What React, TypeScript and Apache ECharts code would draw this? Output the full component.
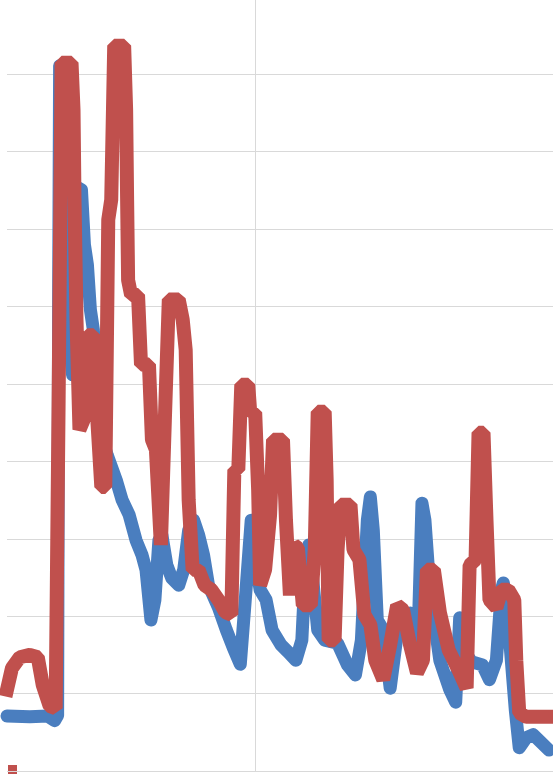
import React, { useEffect, useRef } from "react";
import * as echarts from "echarts";

// day index (x) and value (y) for each series
const redDays = [0, 2.0, 5.2, 9.2, 12.4, 14.4, 17.2, 19.6, 20.8, 22.0, 26.0, 26.8, 27.2, 28.0, 29.2, 30.8, 32.4, 34.8, 36.4, 38.0, 39.6, 40.8, 42.0, 43.2, 47.2, 48.0, 48.4, 48.8, 50.0, 52.8, 54.0, 57.2, 58.4, 60.0, 62.0, 63.6, 65.2, 69.2, 70.8, 72.0, 73.2, 74.8, 77.2, 79.6, 82.4, 85.2, 88.0, 90.4, 91.6, 93.2, 94.4, 97.2, 98.0, 100.0, 101.2, 102.0, 104.0, 106.0, 107.2, 111.2, 112.4, 114.0, 115.6, 117.2, 119.2, 122.4, 124.0, 125.2, 128.0, 128.8, 129.6, 132.0, 133.2, 134.4, 138.4, 139.6, 142.0, 144.0, 146.4, 148.4, 151.6, 154.4, 157.2, 159.6, 162.4, 165.2, 167.6, 169.2, 172.0, 174.4, 178.0, 182.0, 185.2, 186.4, 188.8, 190.0, 192.0, 193.2, 194.4, 197.2, 199.2, 202.0, 204.4, 205.2, 206.4, 209.2, 213.2, 218.4];
const redValues = [10.5, 13.3, 14.7, 15.0, 14.7, 11.1, 8.4, 8.1, 47.9, 91.5, 91.5, 85.4, 73.8, 58.3, 44.1, 45.3, 56.3, 56.3, 45.3, 36.7, 36.7, 71.2, 73.8, 93.7, 93.7, 85.4, 73.8, 63.4, 61.5, 61.5, 52.5, 52.5, 42.8, 41.5, 29.2, 45.3, 60.9, 60.9, 58.3, 54.4, 35.0, 26.0, 26.0, 24.0, 23.4, 22.1, 20.5, 20.2, 38.9, 38.9, 49.9, 49.9, 46.3, 46.3, 36.3, 24.0, 26.0, 33.1, 42.8, 42.8, 32.4, 22.7, 29.2, 28.8, 21.4, 21.4, 28.6, 46.4, 46.4, 37.6, 16.9, 16.9, 28.6, 34.4, 34.4, 28.6, 27.3, 20.2, 18.9, 14.3, 11.8, 16.3, 21.4, 20.8, 16.3, 12.7, 14.3, 26.0, 26.0, 20.5, 15.6, 13.0, 10.7, 26.6, 27.3, 43.7, 43.7, 32.4, 22.1, 21.1, 23.4, 23.4, 22.1, 14.3, 7.5, 7.0, 7.0, 7.0];

const blueDays = [0, 9.2, 16.4, 19.2, 20.4, 20.8, 21.2, 22.4, 23.6, 25.2, 26.4, 27.6, 28.8, 30.0, 31.2, 32.4, 33.6, 34.8, 36.4, 38.4, 40.4, 44.0, 46.4, 49.2, 52.0, 54.4, 56.0, 58.0, 59.6, 61.2, 62.4, 64.4, 66.4, 69.2, 71.2, 73.2, 75.2, 77.2, 79.2, 81.2, 85.2, 88.4, 91.2, 94.0, 96.0, 98.4, 100.0, 102.0, 104.4, 106.8, 110.4, 113.2, 116.4, 118.8, 120.4, 121.6, 123.2, 125.2, 128.0, 133.2, 137.2, 140.4, 142.8, 145.2, 146.4, 147.6, 149.2, 151.6, 154.4, 157.2, 160.0, 162.4, 164.4, 165.6, 167.2, 168.4, 170.4, 174.4, 178.4, 180.8, 182.4, 184.0, 187.2, 191.6, 194.4, 197.2, 199.2, 200.0, 201.6, 202.8, 204.8, 206.4, 209.2, 212.0, 215.2, 218.4];
const blueValues = [7.1, 7.0, 7.1, 6.5, 7.2, 60.9, 91.1, 80.2, 66.0, 55.7, 51.2, 60.9, 75.3, 75.1, 68.0, 65.4, 59.6, 57.0, 47.9, 42.8, 40.8, 37.6, 35.0, 33.1, 29.8, 27.9, 26.0, 19.5, 22.1, 29.8, 30.5, 26.6, 24.9, 24.0, 26.0, 31.1, 32.4, 30.5, 27.9, 24.0, 21.1, 18.2, 15.9, 13.8, 22.1, 32.4, 27.3, 23.4, 22.1, 18.2, 16.3, 15.4, 14.3, 16.9, 27.3, 29.2, 24.7, 18.2, 16.9, 16.5, 13.7, 12.4, 16.9, 32.4, 35.4, 31.1, 19.5, 18.2, 10.7, 17.6, 18.9, 20.4, 14.3, 16.9, 34.6, 32.4, 23.4, 14.3, 10.5, 8.9, 19.8, 15.6, 14.1, 13.7, 11.8, 14.3, 23.4, 24.3, 20.8, 15.9, 7.9, 3.0, 4.3, 4.7, 3.7, 2.7];

const xMin = 0;
const xMax = 220;
const xInterval = 100;
const yMin = 0;
const yMax = 99.6;
const yInterval = 10;

const BLUE = "#4a7ebf";
const RED = "#c0504d";
const GRID = "#d9d9d9";

export default function App() {
  const ref = useRef<HTMLDivElement>(null);
  useEffect(() => {
    document.body.style.margin = "0";
    if (!ref.current) return;
    const chart = echarts.init(ref.current, null, { renderer: "svg" });
    const red = redDays.map((d, i) => [d, redValues[i]]);
    const blue = blueDays.map((d, i) => [d, blueValues[i]]);
    const yLineColors = [GRID, GRID, GRID, GRID, GRID, GRID, GRID, GRID, GRID, GRID, "transparent", "transparent"];
    chart.setOption({
      animation: false,
      backgroundColor: "#ffffff",
      grid: { left: 7, top: 0, height: 771, width: 550 },
      xAxis: {
        type: "value",
        min: xMin,
        max: xMax,
        interval: xInterval,
        axisLine: { show: false },
        axisTick: { show: false },
        axisLabel: { show: false },
        splitLine: {
          show: true,
          lineStyle: { color: ["transparent", GRID, "transparent", "transparent"], width: 1 },
        },
      },
      yAxis: {
        type: "value",
        min: yMin,
        max: yMax,
        interval: yInterval,
        axisLine: { show: false },
        axisTick: { show: false },
        axisLabel: { show: false },
        splitLine: { show: true, lineStyle: { color: yLineColors, width: 1 } },
      },
      graphic: [
        { type: "rect", left: 8, top: 765, shape: { width: 9, height: 9 }, style: { fill: RED } },
      ],
      series: [
        {
          type: "line",
          data: blue,
          showSymbol: false,
          symbol: "none",
          lineStyle: { color: BLUE, width: 13, cap: "round", join: "round" },
          z: 2,
        },
        {
          type: "line",
          data: red,
          showSymbol: false,
          symbol: "none",
          lineStyle: { color: RED, width: 14, cap: "square", join: "bevel" },
          z: 3,
        },
      ],
    });
    return () => chart.dispose();
  }, []);
  return <div ref={ref} style={{ width: 553, height: 774 }} />;
}
